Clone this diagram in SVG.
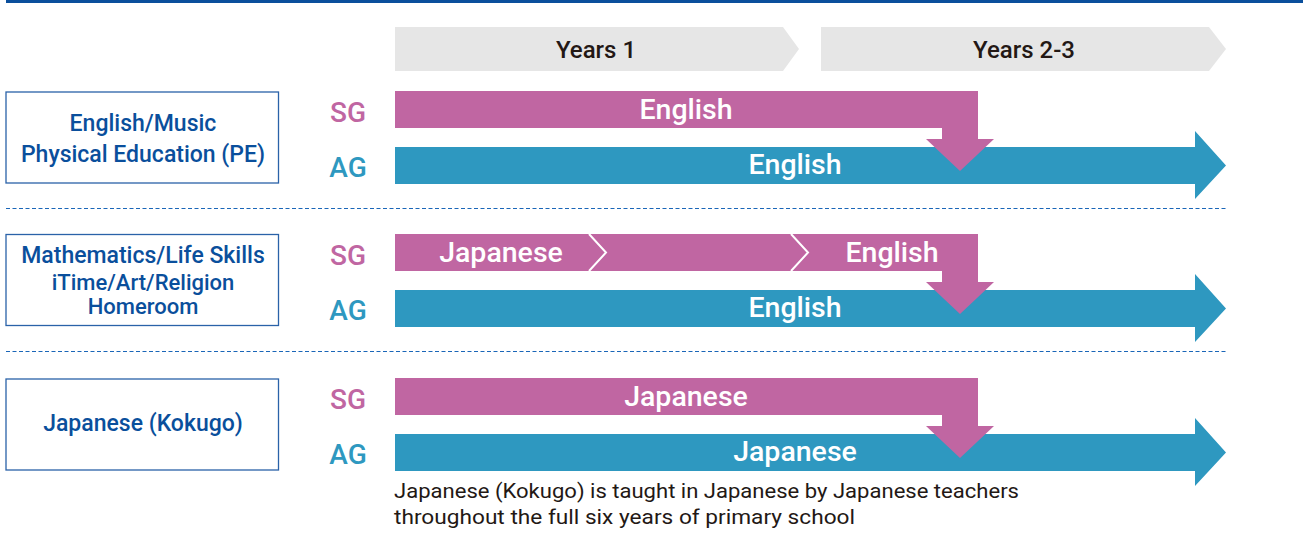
<svg xmlns="http://www.w3.org/2000/svg" width="1303" height="544" viewBox="0 0 1303 544">
<style>
text{font-family:Roboto,"Liberation Sans",Arial,sans-serif;font-weight:500}
.box{fill:#fff;stroke:#2a62a8;stroke-width:1.3}
.bt{fill:#0a4f9c;font-size:23px;text-anchor:middle}
.bt2{fill:#0a4f9c;font-size:22px;text-anchor:middle}
.sg{fill:#c066a2;font-size:28px;text-anchor:middle}
.ag{fill:#2e98c0;font-size:28px;text-anchor:middle}
.pink{fill:#c066a2}
.blue{fill:#2e98c0}
.wt{fill:#fff;font-size:28.5px;text-anchor:middle}
.yr{fill:#e6e6e6}
.yt{fill:#231815;font-size:24px;text-anchor:middle}
.dot{stroke:#1a66b8;stroke-width:1.2;stroke-dasharray:4 2.5;fill:none}
.chev{stroke:#fff;stroke-width:2;fill:none}
.note{fill:#231815;font-size:20px;font-weight:400}
</style>
<defs>
<path id="pinkArrow" d="M395,91 H978 V139 H994 L960,171 L926,139 H942 V128 H395 Z"/>
<path id="blueArrow" d="M395,147 H1195 V131 L1226,165.5 L1195,199 V184 H395 Z"/>
</defs>
<rect x="6" y="0" width="1297" height="3" fill="#0a4f9c"/>
<g id="years">
<path class="yr" d="M395,27 H783 L799,49 L783,71 H395 Z"/>
<text class="yt" x="596" y="58">Years 1</text>
<path class="yr" d="M821,27 H1209 L1226,49 L1209,71 H821 Z"/>
<text class="yt" x="1024" y="58">Years 2-3</text>
</g>
<g id="connectors">
<line class="dot" x1="6" y1="208.5" x2="1228" y2="208.5"/>
<line class="dot" x1="6" y1="351.5" x2="1228" y2="351.5"/>
</g>
<g id="row1">
<rect class="box" x="6" y="92" width="272.5" height="91"/>
<text class="bt" x="143" y="131">English/Music</text>
<text class="bt" x="143" y="162">Physical Education (PE)</text>
<text class="sg" x="348" y="122">SG</text>
<text class="ag" x="348" y="177">AG</text>
<use href="#blueArrow" class="blue"/>
<use href="#pinkArrow" class="pink"/>
<text class="wt" x="686" y="119">English</text>
<text class="wt" x="795" y="174">English</text>
</g>
<g id="row2">
<rect class="box" x="6" y="234.5" width="272.5" height="91"/>
<text class="bt" x="143" y="263">Mathematics/Life Skills</text>
<text class="bt2" x="143" y="289.5">iTime/Art/Religion</text>
<text class="bt2" x="143" y="314">Homeroom</text>
<text class="sg" x="348" y="265">SG</text>
<text class="ag" x="348" y="320">AG</text>
<use href="#blueArrow" class="blue" transform="translate(0,143)"/>
<use href="#pinkArrow" class="pink" transform="translate(0,143)"/>
<path class="chev" d="M589,234 L606,252.5 L589,271"/>
<path class="chev" d="M791,234 L808,252.5 L791,271"/>
<text class="wt" x="501" y="262">Japanese</text>
<text class="wt" x="892" y="262">English</text>
<text class="wt" x="795" y="317">English</text>
</g>
<g id="row3">
<rect class="box" x="6" y="379" width="272.5" height="91"/>
<text class="bt" x="143" y="431">Japanese (Kokugo)</text>
<text class="sg" x="348" y="409">SG</text>
<text class="ag" x="348" y="464">AG</text>
<use href="#blueArrow" class="blue" transform="translate(0,287)"/>
<use href="#pinkArrow" class="pink" transform="translate(0,287)"/>
<text class="wt" x="686" y="406">Japanese</text>
<text class="wt" x="795" y="461">Japanese</text>
</g>
<g id="note">
<text class="note" x="394" y="498" textLength="625" lengthAdjust="spacingAndGlyphs">Japanese (Kokugo) is taught in Japanese by Japanese teachers</text>
<text class="note" x="394" y="524" textLength="461" lengthAdjust="spacingAndGlyphs">throughout the full six years of primary school</text>
</g>
</svg>
